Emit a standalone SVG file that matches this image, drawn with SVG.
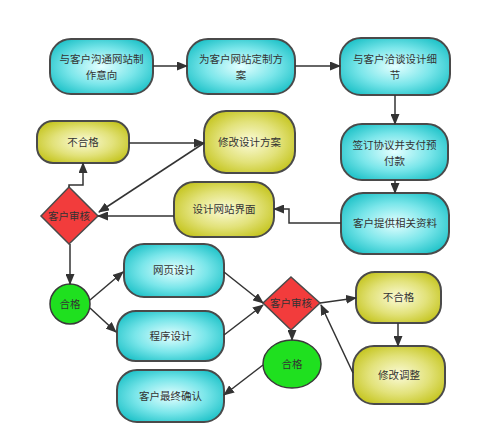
<svg xmlns="http://www.w3.org/2000/svg" width="500" height="424" viewBox="0 0 500 424">
<defs>
<radialGradient id="gc" cx="50%" cy="50%" r="60%">
<stop offset="0" stop-color="#e4ffff"/>
<stop offset="0.55" stop-color="#7ae6ea"/>
<stop offset="1" stop-color="#1ec2c8"/>
</radialGradient>
<radialGradient id="gy" cx="50%" cy="50%" r="60%">
<stop offset="0" stop-color="#fbfbd8"/>
<stop offset="0.55" stop-color="#e2e27a"/>
<stop offset="1" stop-color="#c4c41c"/>
</radialGradient>
<marker id="ah" markerUnits="userSpaceOnUse" markerWidth="11" markerHeight="9" refX="10" refY="4.5" orient="auto">
<path d="M0,0 L11,4.5 L0,9 z" fill="#333"/>
</marker>
<style>
.c{fill:url(#gc);stroke:#4a4a4a;stroke-width:2}
.y{fill:url(#gy);stroke:#4a4a4a;stroke-width:2}
.r{fill:#f23c3c;stroke:#4a4a4a;stroke-width:1.5}
.g{fill:#1fe01f;stroke:#3a3a3a;stroke-width:1.5}
text{font-family:"Noto Sans CJK SC","Noto Sans",sans-serif;font-size:10.5px;fill:#333;text-anchor:middle}
.e{fill:none;stroke:#333;stroke-width:1.5;marker-end:url(#ah)}
</style>
</defs>
<rect width="500" height="424" fill="#fff"/>
<g id="n1"><rect class="c" x="50" y="39" width="103" height="55" rx="21"/><text x="101.5" y="63">与客户沟通网站制</text><text x="101.5" y="79">作意向</text></g>
<g id="n2"><rect class="c" x="187" y="39" width="108" height="55" rx="21"/><text x="241" y="63">为客户网站定制方</text><text x="241" y="79">案</text></g>
<g id="n3"><rect class="c" x="340" y="38" width="110" height="57" rx="21"/><text x="395" y="63">与客户洽谈设计细</text><text x="395" y="79">节</text></g>
<g id="n4"><rect class="c" x="341" y="124" width="107" height="56" rx="21"/><text x="394.5" y="149">签订协议并支付预</text><text x="394.5" y="165">付款</text></g>
<g id="n5"><rect class="c" x="341" y="193" width="108" height="61" rx="22"/><text x="395" y="227">客户提供相关资料</text></g>
<g id="n6"><rect class="y" x="174" y="182" width="100" height="55" rx="20"/><text x="224" y="213">设计网站界面</text></g>
<g id="n7"><rect class="y" x="37" y="121" width="92" height="42" rx="16"/><text x="83" y="146">不合格</text></g>
<g id="n8"><rect class="y" x="204" y="111" width="91" height="62" rx="22"/><text x="249.5" y="146">修改设计方案</text></g>
<g id="d1"><path class="r" d="M69,187 L98,216 L69,244 L41,216 Z"/><text x="69" y="220">客户审核</text></g>
<g id="o1"><circle class="g" cx="70" cy="304" r="20"/><text x="70" y="308">合格</text></g>
<g id="n9"><rect class="c" x="124" y="244" width="100" height="53" rx="20"/><text x="174" y="274">网页设计</text></g>
<g id="n10"><rect class="c" x="117" y="311" width="107" height="50" rx="19"/><text x="170.5" y="340">程序设计</text></g>
<g id="n11"><rect class="c" x="117" y="370" width="107" height="52" rx="20"/><text x="170.5" y="400">客户最终确认</text></g>
<g id="d2"><path class="r" d="M291,277 L320,303 L291,330 L263,303 Z"/><text x="291" y="307">客户审核</text></g>
<g id="o2"><ellipse class="g" cx="292" cy="364" rx="29" ry="24"/><text x="292" y="368">合格</text></g>
<g id="n12"><rect class="y" x="356" y="272" width="85" height="51" rx="19"/><text x="398.5" y="301">不合格</text></g>
<g id="n13"><rect class="y" x="353" y="346" width="92" height="58" rx="21"/><text x="399" y="379">修改调整</text></g>
<g id="edges">
<path class="e" d="M153,66 L187,66"/>
<path class="e" d="M295,66 L340,66"/>
<path class="e" d="M395,95 L395,124"/>
<path class="e" d="M395,180 L395,193"/>
<path class="e" d="M341,223 L289,223 L289,209 L274,209"/>
<path class="e" d="M174,216 L98,216"/>
<path class="e" d="M69,187 L69,185 L83,185 L83,163"/>
<path class="e" d="M129,143 L204,143"/>
<path class="e" d="M204,143 L99,212"/>
<path class="e" d="M70,244 L70,284"/>
<path class="e" d="M90,300 L123,272"/>
<path class="e" d="M90,308 L116,332"/>
<path class="e" d="M224,272 L263,303"/>
<path class="e" d="M224,335 L263,305"/>
<path class="e" d="M320,303 L356,298"/>
<path class="e" d="M398,323 L398,346"/>
<path class="e" d="M353,373 L321,305"/>
<path class="e" d="M292,330 L292,340"/>
<path class="e" d="M263,365 L224,395"/>
</g>
</svg>
